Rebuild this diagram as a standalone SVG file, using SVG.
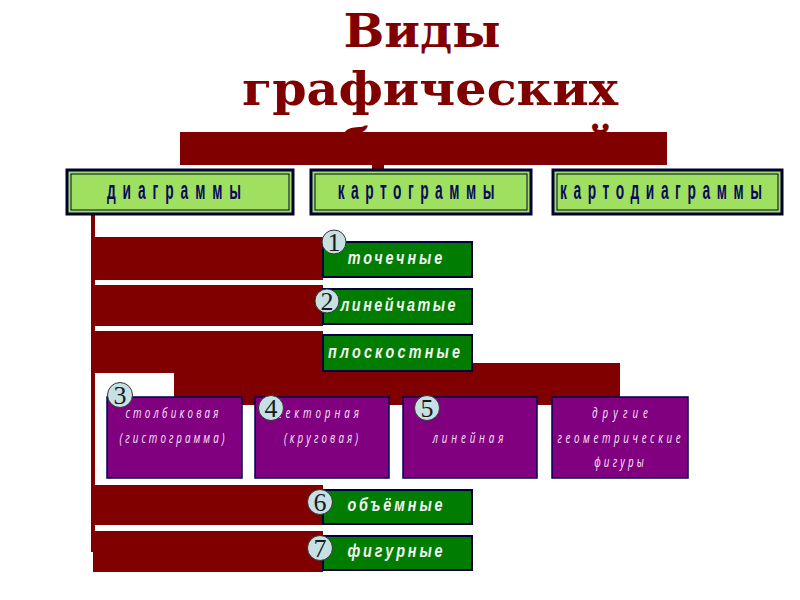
<svg xmlns="http://www.w3.org/2000/svg" width="800" height="600" viewBox="0 0 800 600">
<style>
.title{font-family:"DejaVu Serif","Liberation Serif",serif;font-weight:bold;font-size:47px;fill:#800000;text-anchor:middle}
.bar{fill:#800000}
.top{fill:#a0e060;stroke:#000033;stroke-width:3}
.topin{fill:none;stroke:#000033;stroke-width:1}
.toptx{font-family:"Liberation Sans",Arial,sans-serif;font-weight:bold;font-size:25px;fill:#0a0a5a;text-anchor:middle}
.grn{fill:#007d00;stroke:#000040;stroke-width:2}
.grntx{font-family:"Liberation Sans",Arial,sans-serif;font-weight:bold;font-style:italic;font-size:18px;fill:#f4f4f4;text-anchor:middle}
.pur{fill:#800080;stroke:#000050;stroke-width:1.5}
.purtx{font-family:"Open Sans","Liberation Sans",sans-serif;font-style:italic;font-size:14px;fill:#ffe6ff;text-anchor:middle}
.num circle{fill:#c6e0e4;stroke:#333333;stroke-width:1}
.num text{font-family:"Liberation Serif","Times New Roman",serif;font-size:26px;fill:#1a1a1a;text-anchor:middle}
</style>
<rect width="800" height="600" fill="#ffffff"/>
<g id="title">
<text class="title" x="422" y="47" textLength="157" lengthAdjust="spacingAndGlyphs">Виды</text>
<text class="title" x="430" y="105" textLength="376" lengthAdjust="spacingAndGlyphs">графических</text>
<text class="title" x="430" y="162" textLength="376" lengthAdjust="spacingAndGlyphs">изображений</text>
</g>
<g id="connectors">
<rect class="bar" x="180" y="132" width="487" height="33"/>
<rect class="bar" x="372" y="160" width="12" height="12"/>
<rect class="bar" x="91" y="213" width="4" height="339"/>
<rect class="bar" x="91" y="237" width="232" height="43"/>
<rect class="bar" x="91" y="285" width="232" height="41"/>
<rect class="bar" x="91" y="331" width="232" height="42"/>
<rect class="bar" x="174" y="363" width="446" height="42"/>
<rect class="bar" x="92" y="485" width="231" height="40"/>
<rect class="bar" x="93" y="531" width="230" height="41"/>
</g>
<g id="node-diagrammy">
<rect class="top" x="67" y="170" width="226" height="44"/>
<rect class="topin" x="71" y="174" width="218" height="36"/>
<text class="toptx" transform="translate(174,199) scale(0.55,1)" textLength="244" lengthAdjust="spacing">диаграммы</text>
</g>
<g id="node-kartogrammy">
<rect class="top" x="311" y="170" width="220" height="44"/>
<rect class="topin" x="315" y="174" width="212" height="36"/>
<text class="toptx" transform="translate(416,199) scale(0.55,1)" textLength="285" lengthAdjust="spacing">картограммы</text>
</g>
<g id="node-kartodiagrammy">
<rect class="top" x="553" y="170" width="229" height="44"/>
<rect class="topin" x="557" y="174" width="221" height="36"/>
<text class="toptx" transform="translate(661,199) scale(0.55,1)" textLength="367" lengthAdjust="spacing">картодиаграммы</text>
</g>
<g id="node-tochechnye">
<rect class="grn" x="323" y="242" width="149" height="35"/>
<text class="grntx" transform="translate(395,264) scale(0.8,1)" textLength="118" lengthAdjust="spacing">точечные</text>
</g>
<g id="node-lineychatye">
<rect class="grn" x="323" y="289" width="149" height="35"/>
<text class="grntx" transform="translate(398,311) scale(0.8,1)" textLength="144" lengthAdjust="spacing">линейчатые</text>
</g>
<g id="node-ploskostnye">
<rect class="grn" x="323" y="335" width="149" height="36"/>
<text class="grntx" transform="translate(394,358) scale(0.8,1)" textLength="165" lengthAdjust="spacing">плоскостные</text>
</g>
<g id="node-stolbikovaya">
<rect class="pur" x="107" y="397" width="135" height="81"/>
<text class="purtx" transform="translate(172,418) scale(0.7,1)" textLength="133" lengthAdjust="spacing">столбиковая</text>
<text class="purtx" transform="translate(172,443) scale(0.7,1)" textLength="150" lengthAdjust="spacing">(гистограмма)</text>
</g>
<g id="node-sektornaya">
<rect class="pur" x="255" y="397" width="134" height="81"/>
<text class="purtx" transform="translate(318,418) scale(0.7,1)" textLength="117" lengthAdjust="spacing">секторная</text>
<text class="purtx" transform="translate(321,443) scale(0.7,1)" textLength="106" lengthAdjust="spacing">(круговая)</text>
</g>
<g id="node-lineynaya">
<rect class="pur" x="403" y="397" width="134" height="81"/>
<text class="purtx" transform="translate(468,443) scale(0.7,1)" textLength="101" lengthAdjust="spacing">линейная</text>
</g>
<g id="node-drugie">
<rect class="pur" x="552" y="397" width="136" height="81"/>
<text class="purtx" transform="translate(620,418) scale(0.7,1)" textLength="80" lengthAdjust="spacing">другие</text>
<text class="purtx" transform="translate(619,443) scale(0.7,1)" textLength="176" lengthAdjust="spacing">геометрические</text>
<text class="purtx" transform="translate(619,467) scale(0.7,1)" textLength="71" lengthAdjust="spacing">фигуры</text>
</g>
<g id="node-obemnye">
<rect class="grn" x="323" y="490" width="149" height="34"/>
<text class="grntx" transform="translate(395,511) scale(0.8,1)" textLength="119" lengthAdjust="spacing">объёмные</text>
</g>
<g id="node-figurnye">
<rect class="grn" x="323" y="536" width="149" height="34"/>
<text class="grntx" transform="translate(395,557) scale(0.8,1)" textLength="119" lengthAdjust="spacing">фигурные</text>
</g>
<g id="numbers" class="num">
<g id="num1"><circle cx="334" cy="242" r="12"/><text x="334" y="251">1</text></g>
<g id="num2"><circle cx="327" cy="301" r="12"/><text x="327" y="310">2</text></g>
<g id="num3"><circle cx="120" cy="395" r="12.5"/><text x="120" y="404">3</text></g>
<g id="num4"><circle cx="271" cy="408" r="12.5"/><text x="271" y="417">4</text></g>
<g id="num5"><circle cx="427" cy="408" r="12.5"/><text x="427" y="417">5</text></g>
<g id="num6"><circle cx="320" cy="502" r="12.5"/><text x="320" y="511">6</text></g>
<g id="num7"><circle cx="320" cy="548" r="12.5"/><text x="320" y="557">7</text></g>
</g>
</svg>
